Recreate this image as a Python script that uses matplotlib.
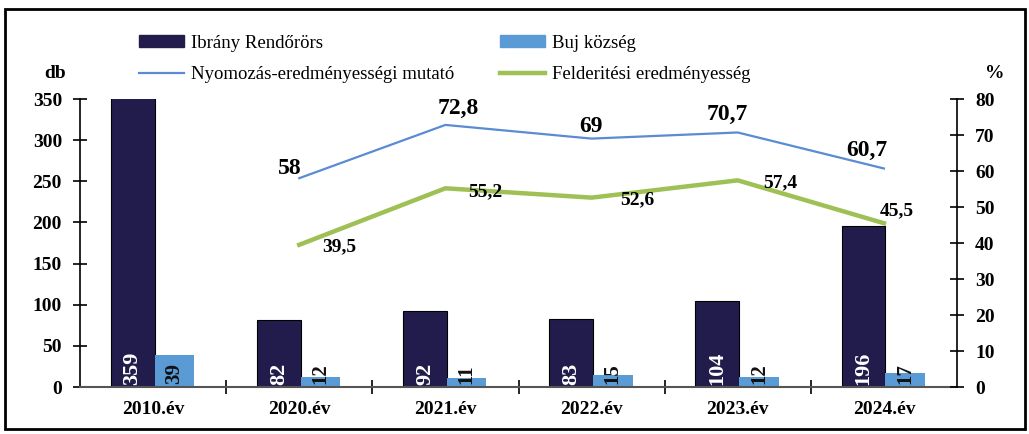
import numpy as np
import matplotlib
matplotlib.use("Agg")
from matplotlib import pyplot as plt
from matplotlib.patches import Rectangle

years = ['2010.év', '2020.év', '2021.év', '2022.év', '2023.év', '2024.év']
ibrany = [359, 82, 92, 83, 104, 196]
buj = [39, 12, 11, 15, 12, 17]
# lines have no value for 2010
nyomozas = [None, 58, 72.8, 69, 70.7, 60.7]
felderites = [None, 39.5, 55.2, 52.6, 57.4, 45.5]

plt.rcParams['font.family'] = ['Liberation Serif', 'DejaVu Serif']

dark = '#221c4c'
light = '#5b9bd5'
blue = '#5a8bd3'
green = '#9fc054'

fig = plt.figure(figsize=(10.29, 4.34), dpi=100)
ax = fig.add_axes([80/1029, 1-387/434, 877/1029, 288/434])
ax2 = ax.twinx()

x = np.arange(len(years))
ax.bar(x - 0.14, ibrany, width=0.30, color=dark, edgecolor='black', linewidth=0.8, zorder=2)
ax.bar(x + 0.145, buj, width=0.27, color=light, zorder=2)

for i, v in enumerate(ibrany):
    ax.text(x[i] - 0.14, 3, str(v), rotation=90, ha='center', va='bottom',
            color='white', fontsize=16, fontweight='bold', zorder=3)
for i, v in enumerate(buj):
    ax.text(x[i] + 0.145, 4, str(v), rotation=90, ha='center', va='bottom',
            color='#111111', fontsize=15, fontweight='bold', zorder=3)

ax.set_xlim(-0.5, len(years) - 0.5)
ax.set_ylim(0, 350)
ax.set_yticks(range(0, 351, 50))
ax.set_xticks(x)
ax.set_xticklabels(years, fontsize=14, fontweight='bold')
ax.set_xticks(np.arange(0.5, len(years) - 1, 1), minor=True)
ax.tick_params(axis='x', which='major', length=0, pad=10)
ax.tick_params(axis='x', which='minor', length=10, direction='inout', width=1.2)
ax.tick_params(axis='y', length=10, direction='inout', width=1.2, labelsize=14, pad=8)
for lab in ax.get_yticklabels():
    lab.set_fontweight('bold')

ax.spines['top'].set_visible(False)
ax.spines['right'].set_visible(False)
ax.spines['left'].set_linewidth(1.2)
ax.spines['bottom'].set_color('#555555')
ax.spines['bottom'].set_linewidth(1.5)

xl = x[1:]
l1, = ax2.plot(xl, nyomozas[1:], color=blue, linewidth=1.6, zorder=4)
l2, = ax2.plot(xl, felderites[1:], color=green, linewidth=3.2, zorder=4)
ax2.set_ylim(0, 80)
ax2.set_yticks(range(0, 81, 10))
ax2.tick_params(axis='y', length=10, direction='inout', width=1.2, labelsize=14, pad=8)
for lab in ax2.get_yticklabels():
    lab.set_fontweight('bold')
for s in ['top', 'left', 'bottom']:
    ax2.spines[s].set_visible(False)
ax2.spines['right'].set_linewidth(1.2)

def fmt(v):
    return ('%g' % v).replace('.', ',')

blue_off = [(-9, 10), (13, 16), (-1, 12), (-10, 18), (-17, 18)]
for xi, v, off in zip(xl, nyomozas[1:], blue_off):
    ax2.annotate(fmt(v), (xi, v), xytext=off, textcoords='offset pixels',
                 ha='center', va='center', fontsize=17, fontweight='bold', zorder=5)
green_off = [(40, -2), (40, -3), (46, -2), (43, -2), (13, 12)]
for xi, v, off in zip(xl, felderites[1:], green_off):
    ax2.annotate(fmt(v), (xi, v), xytext=off, textcoords='offset pixels',
                 ha='center', va='center', fontsize=14, fontweight='bold', zorder=5)

fig.text(55/1029, 1-73/434, 'db', fontsize=14, fontweight='bold', ha='center', va='center')
fig.text(995/1029, 1-73/434, '%', fontsize=14, fontweight='bold', ha='center', va='center')

p1 = Rectangle((0, 0), 1, 1, color=dark)
p2 = Rectangle((0, 0), 1, 1, color=light)
fig.legend([p1, l1, p2, l2],
           ['Ibrány Rendőrörs', 'Nyomozás-eredményességi mutató',
            'Buj község', 'Felderitési eredményesség'],
           ncol=2, loc='upper left', bbox_to_anchor=(122/1029, 1-18/434),
           frameon=False, fontsize=13.5, handlelength=2.4, handleheight=0.6,
           handletextpad=0.4, columnspacing=2.4, labelspacing=0.75)

fig.patches.append(Rectangle((5/1029, 5/434), 1020/1029, 420/434, transform=fig.transFigure,
                             fill=False, edgecolor='black', linewidth=2))

fig.savefig('out.png', dpi=100)
